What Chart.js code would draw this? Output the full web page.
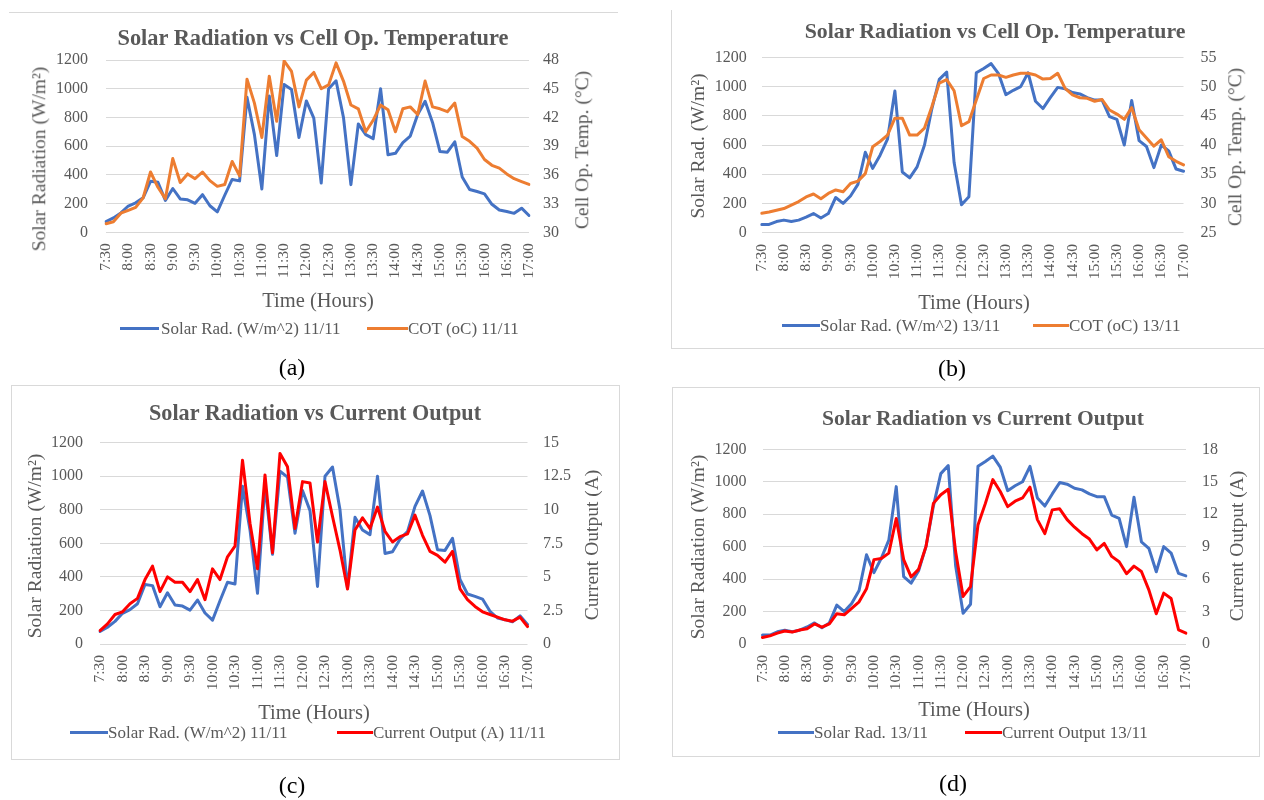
<!DOCTYPE html>
<html><head><meta charset="utf-8">
<script src="https://cdn.jsdelivr.net/npm/chart.js@4.4.1/dist/chart.umd.min.js"></script>
<style>
html,body{margin:0;padding:0;background:#fff;}
#stage{position:relative;width:1264px;height:800px;overflow:hidden;font-family:"Liberation Serif","Times New Roman",serif;}
canvas{position:absolute;left:0;top:0;}
.t{position:absolute;white-space:nowrap;line-height:1;color:#595959;transform:translate(-50%,-50%);}
.rot{transform:translate(-50%,-50%) rotate(-90deg);}
.title{font-weight:bold;font-size:21.5px;}
.axt{font-size:19.5px;}
.xt{font-size:20.5px;}
.leg{position:absolute;white-space:nowrap;line-height:1;color:#595959;font-size:17px;transform:translateY(-50%);}
.sw{position:absolute;height:3px;}
.lab{position:absolute;color:#000;font-size:24px;transform:translate(-50%,-50%);line-height:1;white-space:nowrap;}
.hl{position:absolute;height:0;border-top:1px solid #D9D9D9;}
.vl{position:absolute;width:0;border-left:1px solid #D9D9D9;}
.box{position:absolute;border:1px solid #D9D9D9;box-sizing:border-box;}
</style>
</head><body>
<div id="stage">
<canvas id="ca" width="1264" height="800"></canvas>
<canvas id="cb" width="1264" height="800"></canvas>
<canvas id="cc" width="1264" height="800"></canvas>
<canvas id="cd" width="1264" height="800"></canvas>

<!-- panel (a) -->
<div class="hl" style="left:9px;top:12px;width:609px;"></div>
<div class="t title" style="left:313px;top:38px;font-size:22.4px;">Solar Radiation vs Cell Op. Temperature</div>
<div class="t axt rot" style="left:39px;top:159px;">Solar Radiation (W/m²)</div>
<div class="t axt rot" style="left:582px;top:150px;">Cell Op. Temp. (°C)</div>
<div class="t xt" style="left:318px;top:300px;">Time (Hours)</div>
<div class="sw" style="left:120px;top:327px;width:39px;background:#4472C4;"></div>
<div class="leg" style="left:161px;top:328px;">Solar Rad. (W/m^2) 11/11</div>
<div class="sw" style="left:367px;top:327px;width:41px;background:#ED7D31;"></div>
<div class="leg" style="left:408px;top:328px;">COT (oC) 11/11</div>
<div class="lab" style="left:292px;top:367px;">(a)</div>

<!-- panel (b) -->
<div class="vl" style="left:671px;top:10px;height:338px;"></div>
<div class="hl" style="left:671px;top:348px;width:600px;"></div>
<div class="t title" style="left:995px;top:32px;font-size:21.8px;">Solar Radiation vs Cell Op. Temperature</div>
<div class="t axt rot" style="left:698px;top:146px;">Solar Rad. (W/m²)</div>
<div class="t axt rot" style="left:1235px;top:147px;">Cell Op. Temp. (°C)</div>
<div class="t xt" style="left:974px;top:302px;">Time (Hours)</div>
<div class="sw" style="left:782px;top:324px;width:38px;background:#4472C4;"></div>
<div class="leg" style="left:820px;top:325px;">Solar Rad. (W/m^2) 13/11</div>
<div class="sw" style="left:1033px;top:324px;width:36px;background:#ED7D31;"></div>
<div class="leg" style="left:1069px;top:325px;">COT (oC) 13/11</div>
<div class="lab" style="left:952px;top:368px;">(b)</div>

<!-- panel (c) -->
<div class="box" style="left:11px;top:385px;width:609px;height:375px;"></div>
<div class="t title" style="left:315px;top:413px;font-size:22.2px;">Solar Radiation vs Current Output</div>
<div class="t axt rot" style="left:35px;top:546px;">Solar Radiation (W/m²)</div>
<div class="t axt rot" style="left:592px;top:545px;">Current Output (A)</div>
<div class="t xt" style="left:314px;top:712px;">Time (Hours)</div>
<div class="sw" style="left:70px;top:731px;width:38px;background:#4472C4;"></div>
<div class="leg" style="left:108px;top:732px;">Solar Rad. (W/m^2) 11/11</div>
<div class="sw" style="left:337px;top:731px;width:36px;background:#FF0000;"></div>
<div class="leg" style="left:373px;top:732px;">Current Output (A) 11/11</div>
<div class="lab" style="left:292px;top:785px;">(c)</div>

<!-- panel (d) -->
<div class="box" style="left:672px;top:387px;width:588px;height:370px;"></div>
<div class="t title" style="left:983px;top:419px;">Solar Radiation vs Current Output</div>
<div class="t axt rot" style="left:698px;top:547px;">Solar Radiation (W/m²)</div>
<div class="t axt rot" style="left:1237px;top:546px;">Current Output (A)</div>
<div class="t xt" style="left:974px;top:709px;">Time (Hours)</div>
<div class="sw" style="left:778px;top:731px;width:36px;background:#4472C4;"></div>
<div class="leg" style="left:814px;top:732px;">Solar Rad. 13/11</div>
<div class="sw" style="left:965px;top:731px;width:37px;background:#FF0000;"></div>
<div class="leg" style="left:1002px;top:732px;">Current Output 13/11</div>
<div class="lab" style="left:953px;top:783px;">(d)</div>
</div>

<script>
// ---------- data ----------
const times = ['7:30','7:40','7:50','8:00','8:10','8:20','8:30','8:40','8:50','9:00','9:10','9:20','9:30','9:40','9:50',
  '10:00','10:10','10:20','10:30','10:40','10:50','11:00','11:10','11:20','11:30','11:40','11:50',
  '12:00','12:10','12:20','12:30','12:40','12:50','13:00','13:10','13:20','13:30','13:40','13:50',
  '14:00','14:10','14:20','14:30','14:40','14:50','15:00','15:10','15:20','15:30','15:40','15:50',
  '16:00','16:10','16:20','16:30','16:40','16:50','17:00'];

const solarRad1111 = [75,100,135,183,205,240,355,348,222,305,232,226,202,262,185,142,258,368,358,940,
  680,302,950,535,1030,995,660,915,795,343,1000,1055,800,332,755,680,652,1000,540,550,
  625,670,820,912,765,562,558,630,385,298,284,268,195,155,145,132,168,117];

const cot1111 = [30.9,31.1,32.0,32.3,32.6,33.6,36.3,34.7,33.5,37.7,35.2,36.1,35.6,36.3,35.4,34.8,35.0,37.4,35.9,46.0,
  43.5,39.9,46.3,41.6,47.9,46.8,43.1,45.9,46.7,45.0,45.4,47.7,45.8,43.3,42.9,40.5,41.7,43.3,42.8,40.5,
  42.9,43.1,42.3,45.8,43.1,42.9,42.6,43.5,40.0,39.5,38.8,37.6,37.0,36.7,36.1,35.6,35.3,35.0];

const current1111 = [1.0,1.5,2.2,2.4,3.0,3.4,4.8,5.8,3.9,5.0,4.6,4.6,3.9,4.8,3.3,5.6,4.8,6.5,7.3,13.7,
  9.0,5.6,12.6,6.8,14.2,13.2,8.6,12.1,12.0,7.6,12.1,9.5,7.0,4.1,8.5,9.4,8.6,10.2,8.4,7.6,
  8.0,8.2,9.6,8.1,6.9,6.6,6.1,6.9,4.1,3.3,2.8,2.4,2.2,2.0,1.8,1.7,2.0,1.3];

const solarRad1311 = [55,55,75,85,75,85,105,130,100,130,240,200,250,330,550,440,530,640,970,415,
  375,450,600,850,1050,1100,480,190,245,1095,1125,1158,1090,945,975,1000,1095,900,850,925,
  995,985,960,950,925,908,908,795,775,600,905,630,590,445,600,560,435,420];

const cot1311 = [28.3,28.5,28.8,29.1,29.7,30.3,31.1,31.6,30.8,31.7,32.3,32.0,33.4,33.8,35.1,39.7,40.6,41.7,44.6,44.6,
  41.7,41.7,42.9,46.6,50.6,51.2,49.3,43.3,44.0,47.7,51.4,52.0,52.0,51.6,52.0,52.3,52.3,52.0,51.3,51.4,
  52.3,49.7,48.6,48.1,48.0,47.5,47.8,46.0,45.3,44.4,46.4,42.6,41.2,39.8,40.9,38.0,37.2,36.6];

const current1311 = [0.6,0.75,1.0,1.2,1.1,1.3,1.4,1.85,1.55,1.85,2.8,2.7,3.3,3.9,5.1,7.8,7.9,8.4,11.6,7.8,
  6.2,6.9,9.0,13.0,13.8,14.3,8.5,4.4,5.3,11.0,13.0,15.2,14.1,12.7,13.2,13.5,14.5,11.5,10.2,12.4,
  12.5,11.5,10.8,10.2,9.7,8.7,9.3,8.1,7.6,6.5,7.2,6.7,5.0,2.8,4.7,4.2,1.3,1.0];

// tick labels
const radTicks = [0,200,400,600,800,1000,1200];
const cotTicks1111 = [30,33,36,39,42,45,48];
const cotTicks1311 = [25,30,35,40,45,50,55];
const curTicks1111 = [0,2.5,5,7.5,10,12.5,15];
const curTicks1311 = [0,3,6,9,12,15,18];

// ---------- drawing ----------
const BLUE = '#4472C4', ORANGE = '#ED7D31', RED = '#FF0000';
const GREY = '#595959', GRID = '#D9D9D9';
const FONT = "'Liberation Serif','Times New Roman',serif";
const CW = 1264, CH = 800;

function yAxis(pos, ticksArr, pad, grid) {
  return {
    position: pos,
    min: ticksArr[0], max: ticksArr[ticksArr.length - 1],
    grid: grid ? {display: true, color: GRID, lineWidth: 1, drawTicks: false} : {display: false, drawTicks: false},
    border: {display: false},
    ticks: {padding: pad, color: GREY, font: {family: FONT, size: 16}, callback: v => String(v)},
    afterBuildTicks: s => { s.ticks = ticksArr.map(v => ({value: v})); },
    afterFit: s => { s.width = 50; }
  };
}

function build(id, p) {
  const ds = (data, color, axis, order) => ({
    data, borderColor: color, backgroundColor: color, yAxisID: axis, order,
    borderWidth: 3, pointRadius: 0, pointHoverRadius: 0, tension: 0, fill: false,
    borderJoinStyle: 'round', borderCapStyle: 'round'
  });
  return new Chart(document.getElementById(id), {
    type: 'line',
    data: {labels: times, datasets: [ds(p.left, BLUE, 'y', 2), ds(p.right, p.color, 'y2', 1)]},
    options: {
      responsive: false, animation: false, events: [], devicePixelRatio: 1,
      layout: {padding: {left: p.area.l - 50, right: CW - p.area.r - 50, top: p.area.t, bottom: CH - p.area.b - 60}},
      plugins: {legend: {display: false}, tooltip: {enabled: false}, title: {display: false}},
      scales: {
        x: {
          type: 'category', offset: false,
          grid: {display: false, drawTicks: false}, border: {display: false},
          ticks: {autoSkip: false, minRotation: 90, maxRotation: 90, padding: p.xpad, color: GREY,
            font: {family: FONT, size: 15.5},
            callback: function (v, i) { return i % 3 === 0 ? this.getLabelForValue(v) : ''; }},
          afterFit: s => { s.height = 60; }
        },
        y: yAxis('left', radTicks, p.ylpad, true),
        y2: yAxis('right', p.rticks, p.yrpad, false)
      }
    }
  });
}

build('ca', {left: solarRad1111, right: cot1111, color: ORANGE, rticks: cotTicks1111,
  area: {l: 106, r: 529, t: 60, b: 232.3}, ylpad: 18, yrpad: 14, xpad: 11});
build('cb', {left: solarRad1311, right: cot1311, color: ORANGE, rticks: cotTicks1311,
  area: {l: 761.7, r: 1183.5, t: 57.5, b: 232.5}, ylpad: 15, yrpad: 17, xpad: 11.5});
build('cc', {left: solarRad1111, right: current1111, color: RED, rticks: curTicks1111,
  area: {l: 100, r: 527.5, t: 442.7, b: 644}, ylpad: 17, yrpad: 15.5, xpad: 11});
build('cd', {left: solarRad1311, right: current1311, color: RED, rticks: curTicks1311,
  area: {l: 762.5, r: 1186, t: 449.3, b: 644}, ylpad: 16, yrpad: 16, xpad: 11});
</script>
</body></html>
